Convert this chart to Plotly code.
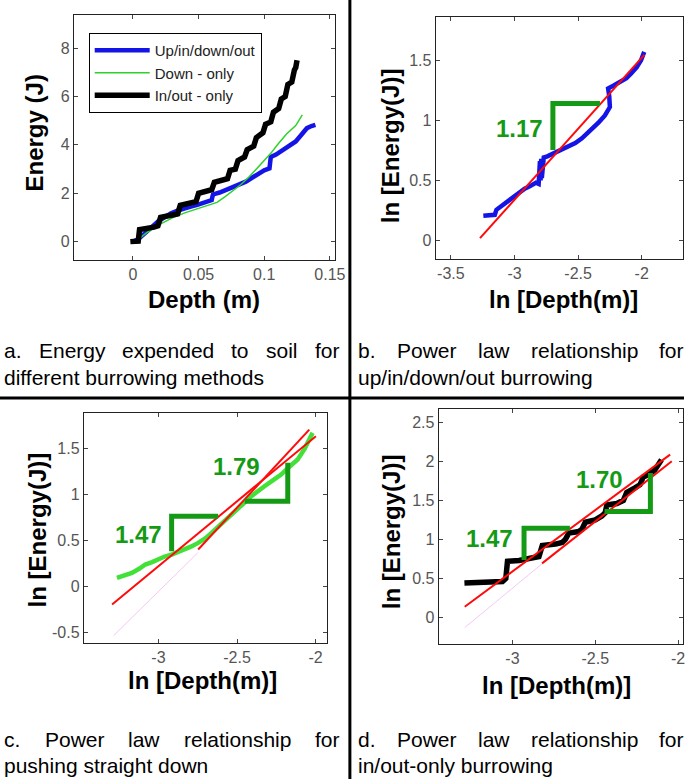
import plotly.graph_objects as go

W, H = 694, 779

# ---------------- Panel a data ----------------
a_blue_x = [0.0, 0.004, 0.009, 0.014, 0.019, 0.024, 0.029, 0.034, 0.039, 0.044, 0.049, 0.054, 0.059, 0.0600, 0.0605, 0.061, 0.066, 0.074, 0.080, 0.086, 0.091, 0.096, 0.100, 0.104, 0.1045, 0.1048, 0.105, 0.109, 0.114, 0.119, 0.124, 0.128, 0.1325, 0.136, 0.139]
a_blue_y = [0.0, 0.1, 0.34, 0.6, 0.83, 1.0, 1.17, 1.28, 1.38, 1.45, 1.52, 1.6, 1.66, 1.72, 1.85, 1.95, 2.03, 2.2, 2.33, 2.48, 2.65, 2.83, 2.95, 3.03, 3.3, 3.1, 3.5, 3.6, 3.79, 3.95, 4.14, 4.4, 4.69, 4.78, 4.83]

a_green_x = [0.002, 0.01, 0.02, 0.03, 0.04, 0.05, 0.058, 0.064, 0.070, 0.076, 0.082, 0.088, 0.094, 0.099, 0.105, 0.111, 0.117, 0.124, 0.129]
a_green_y = [0.0, 0.35, 0.7, 0.98, 1.2, 1.38, 1.52, 1.62, 1.85, 2.1, 2.35, 2.65, 3.0, 3.3, 3.65, 4.07, 4.45, 4.8, 5.24]

a_black_x = [-0.002, 0.004, 0.005, 0.013, 0.016, 0.019, 0.021, 0.030, 0.034, 0.036, 0.045, 0.048, 0.050, 0.057, 0.060, 0.062, 0.068, 0.072, 0.074, 0.078, 0.080, 0.085, 0.087, 0.092, 0.094, 0.099, 0.101, 0.105, 0.107, 0.111, 0.113, 0.116, 0.118, 0.121, 0.123, 0.124, 0.125]
a_black_y = [0.0, 0.02, 0.5, 0.55, 0.6, 0.65, 1.0, 1.1, 1.15, 1.5, 1.6, 1.65, 2.0, 2.1, 2.15, 2.45, 2.55, 2.6, 2.95, 3.0, 3.35, 3.5, 3.8, 3.95, 4.3, 4.5, 4.85, 4.95, 5.35, 5.5, 5.9, 6.0, 6.5, 6.6, 7.1, 7.2, 7.5]

a_series_names = ["Up/in/down/out", "Down - only", "In/out - only"]

# ---------------- Panel b data ----------------
b_blue_x = [-3.245, -3.20, -3.155, -3.142, -3.10, -3.039, -3.00, -2.961, -2.92, -2.884, -2.832, -2.81, -2.805, -2.80, -2.795, -2.79, -2.785, -2.77, -2.742, -2.70, -2.651, -2.60, -2.55, -2.522, -2.47, -2.43, -2.393, -2.34, -2.289, -2.25, -2.255, -2.264, -2.22, -2.16, -2.12, -2.083, -2.04, -2.005, -1.98]
b_blue_y = [0.205, 0.21, 0.213, 0.255, 0.29, 0.338, 0.37, 0.407, 0.43, 0.448, 0.48, 0.47, 0.55, 0.66, 0.50, 0.68, 0.52, 0.69, 0.70, 0.72, 0.74, 0.77, 0.79, 0.81, 0.85, 0.89, 0.92, 0.98, 1.04, 1.11, 1.20, 1.265, 1.29, 1.32, 1.35, 1.39, 1.44, 1.50, 1.57]
b_fit_x = [-3.271, -1.979]
b_fit_y = [0.019, 1.545]
b_tri_x = [-2.698, -2.698, -2.328]
b_tri_y = [0.753, 1.14, 1.14]
b_slope_label = "1.17"
b_label_pos = (-2.96, 0.93)

# ---------------- Panel c data ----------------
c_green_x = [-3.264, -3.22, -3.169, -3.12, -3.084, -3.04, -3.0, -2.96, -2.916, -2.87, -2.831, -2.79, -2.747, -2.70, -2.662, -2.62, -2.578, -2.54, -2.494, -2.45, -2.409, -2.37, -2.325, -2.27, -2.219, -2.17, -2.114, -2.07, -2.03, -2.019]
c_green_y = [0.098, 0.12, 0.152, 0.20, 0.243, 0.27, 0.304, 0.33, 0.351, 0.38, 0.406, 0.44, 0.478, 0.53, 0.587, 0.65, 0.714, 0.78, 0.841, 0.92, 0.986, 1.04, 1.094, 1.16, 1.221, 1.30, 1.384, 1.50, 1.638, 1.674]
c_fit1_x = [-3.295, -1.998]
c_fit1_y = [-0.192, 1.638]
c_fit2_x = [-2.747, -2.04]
c_fit2_y = [0.406, 1.71]
c_faint_x = [-3.285, -2.75]
c_faint_y = [-0.53, 0.37]
c_tri1_x = [-2.916, -2.916, -2.62]
c_tri1_y = [0.388, 0.768, 0.768]
c_tri2_x = [-2.451, -2.177, -2.177]
c_tri2_y = [0.931, 0.931, 1.348]
c_slope_labels = ["1.47", "1.79"]
c_label_pos = [(-3.127, 0.569), (-2.504, 1.31)]

# ---------------- Panel d data ----------------
d_black_x = [-3.29, -3.15, -3.06, -3.04, -3.03, -2.96, -2.88, -2.84, -2.83, -2.82, -2.74, -2.70, -2.68, -2.66, -2.60, -2.58, -2.56, -2.50, -2.46, -2.44, -2.43, -2.37, -2.33, -2.31, -2.26, -2.23, -2.21, -2.17, -2.14, -2.12, -2.10]
d_black_y = [0.44, 0.45, 0.46, 0.50, 0.72, 0.73, 0.76, 0.78, 0.85, 0.92, 0.94, 0.96, 1.00, 1.08, 1.10, 1.13, 1.22, 1.25, 1.30, 1.34, 1.44, 1.46, 1.50, 1.60, 1.66, 1.70, 1.80, 1.84, 1.89, 1.97, 2.02]
d_fit1_x = [-3.288, -2.048]
d_fit1_y = [0.137, 2.085]
d_fit2_x = [-2.821, -2.038]
d_fit2_y = [0.693, 2.0]
d_faint_x = [-3.288, -2.82]
d_faint_y = [-0.13, 0.69]
d_tri1_x = [-2.93, -2.93, -2.653]
d_tri1_y = [0.736, 1.143, 1.143]
d_tri2_x = [-2.444, -2.167, -2.167]
d_tri2_y = [1.357, 1.357, 1.849]
d_slope_labels = ["1.47", "1.70"]
d_label_pos = [(-3.139, 1.015), (-2.474, 1.764)]

# ---------------- Axis ticks ----------------
a_xticks = [0, 0.05, 0.1, 0.15]
a_xticktext = ["0", "0.05", "0.1", "0.15"]
a_yticks = [0, 2, 4, 6, 8]
b_xticks = [-3.5, -3, -2.5, -2]
b_xticktext = ["-3.5", "-3", "-2.5", "-2"]
b_yticks = [0, 0.5, 1, 1.5]
b_yticktext = ["0", "0.5", "1", "1.5"]
c_xticks = [-3, -2.5, -2]
c_xticktext = ["-3", "-2.5", "-2"]
c_yticks = [-0.5, 0, 0.5, 1, 1.5]
c_yticktext = ["-0.5", "0", "0.5", "1", "1.5"]
d_xticks = [-3, -2.5, -2]
d_xticktext = ["-3", "-2.5", "-2"]
d_yticks = [0, 0.5, 1, 1.5, 2, 2.5]
d_yticktext = ["0", "0.5", "1", "1.5", "2", "2.5"]

captions = [
    ("a. Energy expended to soil for", "different burrowing methods"),
    ("b. Power law relationship for", "up/in/down/out burrowing"),
    ("c. Power law relationship for", "pushing straight down"),
    ("d. Power law relationship for", "in/out-only burrowing"),
]

BLUE = "#1414e6"
GREEN_A = "#2fd12f"
GREEN_C = "#44e03a"
RED = "#ff0a0a"
SLOPE_GREEN = "#159a15"
BLACK = "#000000"

# Arial / Liberation Sans advance widths (per 1000 em), used to justify caption lines
ARIAL_W = {
    'a': 556, 'b': 556, 'c': 500, 'd': 556, 'e': 556, 'f': 278, 'g': 556, 'h': 556, 'i': 222,
    'j': 222, 'k': 500, 'l': 222, 'm': 833, 'n': 556, 'o': 556, 'p': 556, 'q': 556, 'r': 333,
    's': 500, 't': 278, 'u': 556, 'v': 500, 'w': 722, 'x': 500, 'y': 500, 'z': 500,
    'E': 667, 'P': 667, '.': 278, ' ': 278, '/': 278, '-': 333,
}


def text_w(s, size):
    return sum(ARIAL_W.get(ch, 556) for ch in s) / 1000.0 * size


def px(x):
    return x / W


def py(y):
    return 1 - y / H


fig = go.Figure()

# Panel a
fig.add_trace(go.Scatter(x=a_blue_x, y=a_blue_y, mode="lines", name=a_series_names[0],
                         line=dict(color=BLUE, width=4.5), xaxis="x", yaxis="y"))
fig.add_trace(go.Scatter(x=a_green_x, y=a_green_y, mode="lines", name=a_series_names[1],
                         line=dict(color=GREEN_A, width=1.5), xaxis="x", yaxis="y"))
fig.add_trace(go.Scatter(x=a_black_x, y=a_black_y, mode="lines", name=a_series_names[2],
                         line=dict(color=BLACK, width=5.5), xaxis="x", yaxis="y"))

# Panel b
fig.add_trace(go.Scatter(x=b_blue_x, y=b_blue_y, mode="lines", showlegend=False,
                         line=dict(color=BLUE, width=4.5), xaxis="x2", yaxis="y2"))
fig.add_trace(go.Scatter(x=b_fit_x, y=b_fit_y, mode="lines", showlegend=False,
                         line=dict(color=RED, width=2), xaxis="x2", yaxis="y2"))
fig.add_trace(go.Scatter(x=b_tri_x, y=b_tri_y, mode="lines", showlegend=False,
                         line=dict(color=SLOPE_GREEN, width=5), xaxis="x2", yaxis="y2"))

# Panel c
fig.add_trace(go.Scatter(x=c_faint_x, y=c_faint_y, mode="lines", showlegend=False,
                         line=dict(color="rgba(240,160,240,0.6)", width=1), xaxis="x3", yaxis="y3"))
fig.add_trace(go.Scatter(x=c_green_x, y=c_green_y, mode="lines", showlegend=False,
                         line=dict(color=GREEN_C, width=4.5), xaxis="x3", yaxis="y3"))
fig.add_trace(go.Scatter(x=c_fit1_x, y=c_fit1_y, mode="lines", showlegend=False,
                         line=dict(color=RED, width=2), xaxis="x3", yaxis="y3"))
fig.add_trace(go.Scatter(x=c_fit2_x, y=c_fit2_y, mode="lines", showlegend=False,
                         line=dict(color=RED, width=2), xaxis="x3", yaxis="y3"))
for tx, ty in [(c_tri1_x, c_tri1_y), (c_tri2_x, c_tri2_y)]:
    fig.add_trace(go.Scatter(x=tx, y=ty, mode="lines", showlegend=False,
                             line=dict(color=SLOPE_GREEN, width=5), xaxis="x3", yaxis="y3"))

# Panel d
fig.add_trace(go.Scatter(x=d_faint_x, y=d_faint_y, mode="lines", showlegend=False,
                         line=dict(color="rgba(240,160,240,0.6)", width=1), xaxis="x4", yaxis="y4"))
fig.add_trace(go.Scatter(x=d_black_x, y=d_black_y, mode="lines", showlegend=False,
                         line=dict(color=BLACK, width=5.5), xaxis="x4", yaxis="y4"))
fig.add_trace(go.Scatter(x=d_fit1_x, y=d_fit1_y, mode="lines", showlegend=False,
                         line=dict(color=RED, width=2), xaxis="x4", yaxis="y4"))
fig.add_trace(go.Scatter(x=d_fit2_x, y=d_fit2_y, mode="lines", showlegend=False,
                         line=dict(color=RED, width=2), xaxis="x4", yaxis="y4"))
for tx, ty in [(d_tri1_x, d_tri1_y), (d_tri2_x, d_tri2_y)]:
    fig.add_trace(go.Scatter(x=tx, y=ty, mode="lines", showlegend=False,
                             line=dict(color=SLOPE_GREEN, width=5), xaxis="x4", yaxis="y4"))

TICKFONT = dict(family="Liberation Sans, Arial, sans-serif", size=16, color="#555555")


def ax(domain, rng, tickvals, ticktext, anchor):
    return dict(domain=domain, range=rng, tickvals=tickvals, ticktext=ticktext, anchor=anchor,
                showgrid=False, zeroline=False, showline=True, linecolor="#222222", linewidth=1,
                mirror="ticks", ticks="inside", ticklen=4, tickcolor="#444444",
                tickfont=TICKFONT, ticklabelstandoff=0, fixedrange=True)


layout = dict(
    width=W, height=H, margin=dict(l=0, r=0, t=0, b=0),
    paper_bgcolor="white", plot_bgcolor="white",
    xaxis=ax([px(75), px(340)], [-0.045, 0.154], a_xticks, a_xticktext, "y"),
    yaxis=ax([py(260), py(15)], [-0.76, 9.37], a_yticks, [str(v) for v in a_yticks], "x"),
    xaxis2=ax([px(442), px(693)], [-3.62, -1.675], b_xticks, b_xticktext, "y2"),
    yaxis2=ax([py(259), py(17)], [-0.155, 1.86], b_yticks, b_yticktext, "x2"),
    xaxis3=ax([px(85), px(332)], [-3.475, -1.926], c_xticks, c_xticktext, "y3"),
    yaxis3=ax([py(643), py(413)], [-0.61, 1.89], c_yticks, c_yticktext, "x3"),
    xaxis4=ax([px(445), px(693)], [-3.446, -1.97], d_xticks, d_xticktext, "y4"),
    yaxis4=ax([py(644), py(409)], [-0.34, 2.67], d_yticks, d_yticktext, "x4"),
    legend=dict(x=px(90), y=py(33), xanchor="left", yanchor="top",
                bgcolor="white", bordercolor="#000000", borderwidth=1,
                font=dict(family="Liberation Sans, Arial, sans-serif", size=15, color="#222222"),
                tracegroupgap=0, itemwidth=55),
    showlegend=True,
)
fig.update_layout(**layout)

TITLEFONT = dict(family="Liberation Sans, Arial, sans-serif", size=24, color="black")
titles = [
    ("Energy (J)", 35, 133, -90),
    ("Depth (m)", 207, 299, 0),
    ("ln [Energy(J)]", 397, 146, -90),
    ("ln [Depth(m)]", 572, 299, 0),
    ("ln [Energy(J)]", 38, 530, -90),
    ("ln [Depth(m)]", 205, 680, 0),
    ("ln [Energy(J)]", 397, 532, -90),
    ("ln [Depth(m)]", 565, 685, 0),
]
for text, x, y, ang in titles:
    fig.add_annotation(text="<b>%s</b>" % text, xref="paper", yref="paper", x=px(x), y=py(y),
                       xanchor="center", yanchor="middle", showarrow=False, textangle=ang,
                       font=TITLEFONT)

SLOPEFONT = dict(family="Liberation Sans, Arial, sans-serif", size=24, color=SLOPE_GREEN)
fig.add_annotation(text="<b>%s</b>" % b_slope_label, x=b_label_pos[0], y=b_label_pos[1],
                   xref="x2", yref="y2", showarrow=False, font=SLOPEFONT)
for lab, pos in zip(c_slope_labels, c_label_pos):
    fig.add_annotation(text="<b>%s</b>" % lab, x=pos[0], y=pos[1], xref="x3", yref="y3",
                       showarrow=False, font=SLOPEFONT)
for lab, pos in zip(d_slope_labels, d_label_pos):
    fig.add_annotation(text="<b>%s</b>" % lab, x=pos[0], y=pos[1], xref="x4", yref="y4",
                       showarrow=False, font=SLOPEFONT)

CAP_SIZE = 21
CAPFONT = dict(family="Liberation Sans, Arial, sans-serif", size=CAP_SIZE, color="black")
# (left px, right px, line1 y, line2 y)
cap_pos = [(3, 343, 350, 377), (362, 692, 350, 377), (3, 343, 739, 765), (362, 692, 739, 765)]
for (l1, l2), (xl, xr, y1, y2) in zip(captions, cap_pos):
    # first line justified across the column
    words = l1.split(" ")
    widths = [text_w(w_, CAP_SIZE) for w_ in words]
    gap = (xr - xl - sum(widths)) / (len(words) - 1)
    xcur = xl
    for w_, ww in zip(words, widths):
        fig.add_annotation(text=w_, xref="paper", yref="paper", x=px(xcur - 1), y=py(y1),
                           xanchor="left", yanchor="middle", showarrow=False, font=CAPFONT)
        xcur += ww + gap
    # last line left aligned
    fig.add_annotation(text=l2, xref="paper", yref="paper", x=px(xl - 1), y=py(y2),
                       xanchor="left", yanchor="middle", showarrow=False, font=CAPFONT)

# dividers
fig.add_shape(type="line", xref="paper", yref="paper", x0=px(355), x1=px(355), y0=0, y1=1,
              line=dict(color="black", width=3))
fig.add_shape(type="line", xref="paper", yref="paper", x0=0, x1=1, y0=py(398), y1=py(398),
              line=dict(color="black", width=3))

fig.write_html("out.html", config={"displayModeBar": False},
               post_script="document.body.style.margin='0px';")
